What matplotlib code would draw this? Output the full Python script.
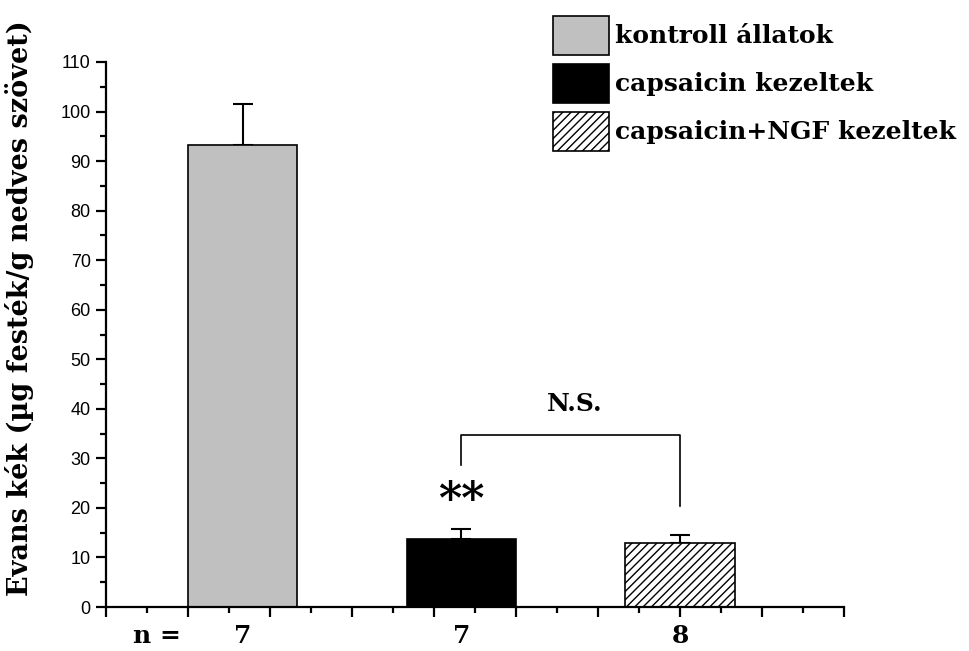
import numpy as np
import matplotlib.pyplot as plt
from matplotlib.patches import Patch
from matplotlib.ticker import MultipleLocator

groups = ['kontroll állatok', 'capsaicin kezeltek', 'capsaicin+NGF kezeltek']
means = [93.3, 13.7, 13.0]
sem = [8.2, 2.1, 1.5]
n_counts = ['7', '7', '8']
colors = ['#c0c0c0', '#000000', 'white']
hatches = ['', '', '////']

plt.rcParams['hatch.linewidth'] = 1.0
serif_bold = dict(family='DejaVu Serif', weight='bold')

fig = plt.figure(figsize=(9.7, 6.51), dpi=100)
ax = fig.add_axes([106/970, 44/651, (844-106)/970, (607-62)/651])

x = np.array([1, 2, 3])
ax.bar(x, means, width=0.5, color=colors, edgecolor='black', linewidth=1.2,
       hatch=hatches, zorder=2)
ax.errorbar(x, means, yerr=[np.zeros(3), sem], fmt='none', ecolor='black',
            elinewidth=1.5, capsize=7.5, capthick=1.5, zorder=1)

ax.set_xlim(0.375, 3.75)
ax.set_ylim(0, 110)
ax.xaxis.set_major_locator(MultipleLocator(0.375))
ax.xaxis.set_minor_locator(MultipleLocator(0.1875))
ax.yaxis.set_major_locator(MultipleLocator(10))
ax.yaxis.set_minor_locator(MultipleLocator(5))
ax.set_xticklabels([])
for s in ['top', 'right']:
    ax.spines[s].set_visible(False)
for s in ['left', 'bottom']:
    ax.spines[s].set_linewidth(1.6)
ax.tick_params(which='major', direction='out', length=7, width=1.6)
ax.tick_params(which='minor', direction='out', length=4, width=1.6)
ax.tick_params(axis='y', labelsize=13, pad=4)
for lab in ax.get_yticklabels():
    lab.set_family('Liberation Sans')

ax.set_ylabel('Evans kék (µg festék/g nedves szövet)', fontsize=19.5,
              **serif_bold)
ax.yaxis.set_label_coords(-0.097, 0.549)

# n values under the bars
tr = ax.get_xaxis_transform()
ax.text(0.61, -0.053, 'n =', transform=tr, ha='center', va='center',
        fontsize=18, **serif_bold)
for xi, n in zip(x, n_counts):
    ax.text(xi, -0.053, n, transform=tr, ha='center', va='center',
            fontsize=18, **serif_bold)

# significance bracket
ax.plot([2, 2, 3, 3], [28.7, 34.7, 34.7, 20.4], color='black', lw=1.2)
ax.text(2.52, 41, 'N.S.', ha='center', va='center', fontsize=18, **serif_bold)
ax.text(2, 21.2, '**', ha='center', va='center', fontsize=32, **serif_bold)

handles = [Patch(facecolor=c, edgecolor='black', hatch=h, linewidth=1.2)
           for c, h in zip(colors, hatches)]
leg = fig.legend(handles, groups, loc='upper left',
                 bbox_to_anchor=(553/970, 1 - 16/651), frameon=False,
                 prop=dict(size=18, **serif_bold), handlelength=2.24,
                 handleheight=2.02, handletextpad=0.25, labelspacing=0.36,
                 borderaxespad=0, borderpad=0)

fig.savefig('out.png', dpi=100)
